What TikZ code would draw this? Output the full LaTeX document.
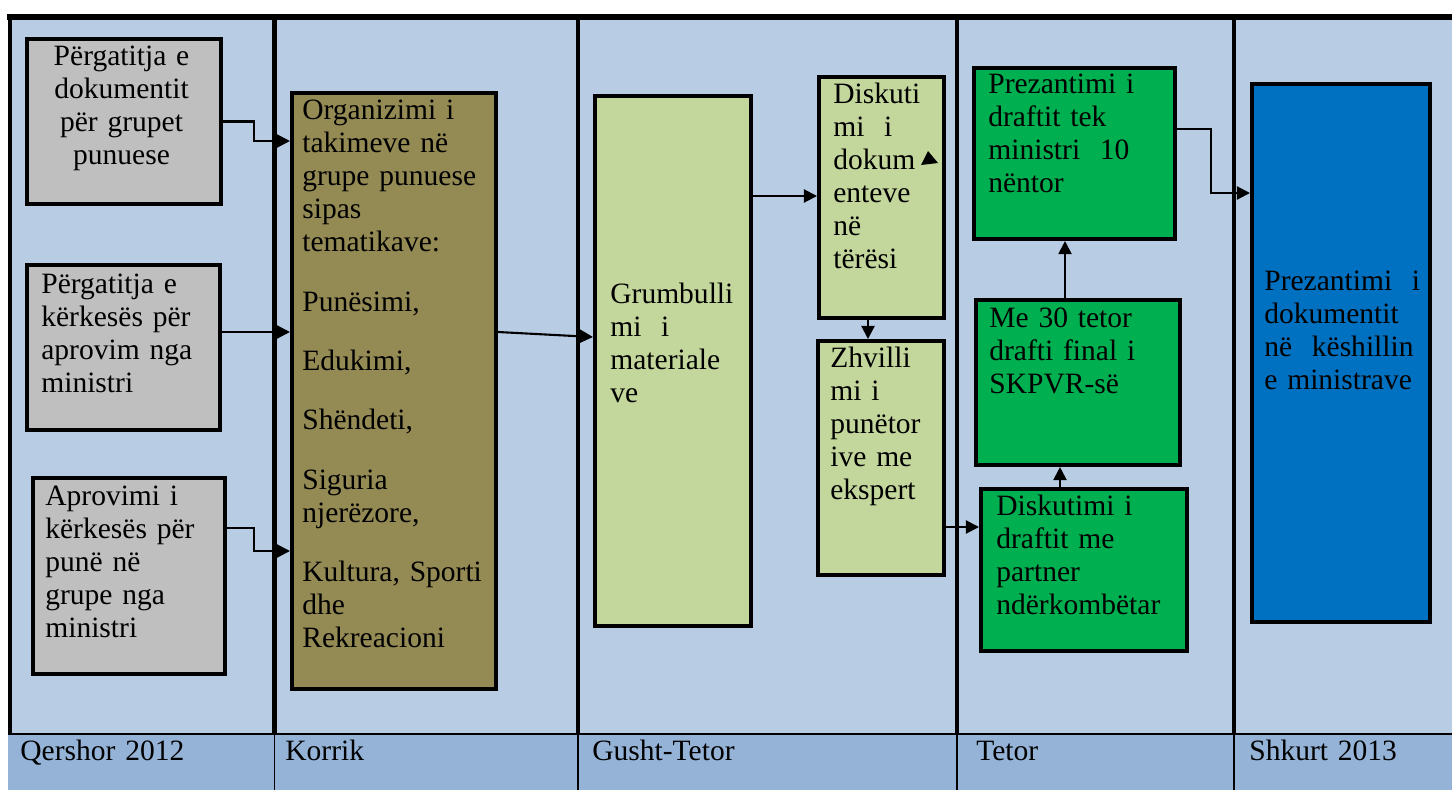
\documentclass[tikz,border=0pt]{standalone}
\usepackage{fontspec}
\setmainfont{Liberation Serif}
\usepackage{xcolor}
\usetikzlibrary{arrows.meta}

\definecolor{lanebg}{HTML}{B8CCE4}
\definecolor{stripbg}{HTML}{95B3D7}
\definecolor{grayfill}{HTML}{BFBFBF}
\definecolor{olivefill}{HTML}{948A54}
\definecolor{palegreen}{HTML}{C3D69B}
\definecolor{greenfill}{HTML}{00B050}
\definecolor{bluefill}{HTML}{0070C0}

\begin{document}
\begin{tikzpicture}[x=0.2mm, y=-0.2mm,
		box/.style={draw=black, line width=2.3pt, inner sep=0pt, anchor=north west},
		txt/.style={
			font=\fontsize{16.8}{18.8}\selectfont, inner sep=0pt,
			anchor=north west, align=left, text width=8cm,
			execute at begin node=\strut
		},
		arr/.style={-{Triangle[length=7.5pt, width=7.5pt]}, line width=1.2pt}
	]
		\useasboundingbox (0,0) rectangle (1452,790);

		% lanes and month strip
		\fill[lanebg] (10,17) rectangle (1452,734);
		\fill[stripbg] (8,734) rectangle (1452,790);
		\draw[line width=3.4pt] (7,17) -- (1452,17);
		\draw[line width=2.8pt] (10,17) -- (10,734);
		\foreach \x in {274.5,578,957,1234} {
				\draw[line width=2.8pt] (\x,17) -- (\x,734);
				\draw[line width=0.9pt] (\x,734) -- (\x,790);
			}
		\draw[line width=0.9pt] (8,734) -- (1452,734);

		\foreach \x/\m/\n in {20/Qershor 2012/qershor, 285/Korrik/korrik,
				592/Gusht-Tetor/gusht, 976/Tetor/tetor, 1249/Shkurt 2013/shkurt} {
				\node[txt] (\n) at (\x,737) {\m};
			}

		% Qershor
		\node[box, fill=grayfill, minimum width=194*0.2mm, minimum height=165*0.2mm]
		(prep1) at (25,37) {};
		\node[txt, anchor=north, align=center, text width=194*0.2mm] (prep1-t) at (121.5,42)
		{Përgatitja e\\dokumentit\\për grupet\\punuese};

		\node[box, fill=grayfill, minimum width=193*0.2mm, minimum height=165*0.2mm]
		(prep2) at (25,263) {};
		\node[txt] (prep2-t) at (41,270) {Përgatitja e\\kërkesës për\\aprovim nga\\ministri};

		\node[box, fill=grayfill, minimum width=192*0.2mm, minimum height=196*0.2mm]
		(aprov) at (31,476) {};
		\node[txt] (aprov-t) at (45,482) {Aprovimi i\\kërkesës për\\punë në\\grupe nga\\ministri};

		% Korrik
		\node[box, fill=olivefill, minimum width=204*0.2mm, minimum height=596*0.2mm]
		(org) at (290,91) {};
		\node[txt] (org-t) at (302,96) {Organizimi i\\takimeve në\\grupe punuese\\sipas\\tematikave:\\[15pt]
			Punësimi,\\[15pt]Edukimi,\\[15pt]Shëndeti,\\[15pt]Siguria\\njerëzore,\\[15pt]
			Kultura, Sporti\\dhe\\Rekreacioni};

		% Gusht-Tetor
		\node[box, fill=palegreen, minimum width=156*0.2mm, minimum height=530*0.2mm]
		(grum) at (593,94) {};
		\node[txt] (grum-t) at (610,280) {Grumbulli\\mi~ i\\materiale\\ve};

		\node[box, fill=palegreen, minimum width=125*0.2mm, minimum height=241*0.2mm]
		(disk) at (817,75) {};
		\node[txt] (disk-t) at (833,80) {Diskuti\\mi~ i\\dokum\\enteve\\në\\tërësi};
		\fill (921,165) -- (938,163) -- (928,151) -- cycle;

		\node[box, fill=palegreen, minimum width=126*0.2mm, minimum height=234*0.2mm]
		(zhv) at (816,339) {};
		\node[txt] (zhv-t) at (830,344) {Zhvilli\\mi i\\punëtor\\ive me\\ekspert};

		% Tetor
		\node[box, fill=greenfill, minimum width=201*0.2mm, minimum height=171*0.2mm]
		(prez) at (972,66) {};
		\node[txt] (prez-t) at (988,70) {Prezantimi i\\draftit tek\\ministri~ 10\\nëntor};

		\node[box, fill=greenfill, minimum width=204*0.2mm, minimum height=165*0.2mm]
		(final) at (974,298) {};
		\node[txt] (final-t) at (989,304) {Me 30 tetor\\drafti final i\\SKPVR-së};

		\node[box, fill=greenfill, minimum width=206*0.2mm, minimum height=162*0.2mm]
		(discd) at (979,487) {};
		\node[txt] (discd-t) at (996,492) {Diskutimi i\\draftit me\\partner\\ndërkombëtar};

		% Shkurt 2013
		\node[box, fill=bluefill, minimum width=178*0.2mm, minimum height=538*0.2mm]
		(minis) at (1250,82) {};
		\node[txt] (minis-t) at (1264,267) {Prezantimi~ i\\dokumentit\\në~ këshillin\\e ministrave};

		% connectors
		\draw[arr] (prep1.east) -- ++(31,0) |- (org.west |- 0,141);
		\draw[arr] (prep2.east |- 0,332) -- (org.west |- 0,332);
		\draw[arr] (aprov.east |- 0,528) -- ++(27,0) |- (org.west |- 0,551);
		\draw[arr] (org.east |- 0,332) -- (grum.west |- 0,337);
		\draw[arr] (grum.east |- 0,196) -- (disk.west |- 0,196);
		\draw[arr] (disk.south -| 868,0) -- (zhv.north -| 868,0);
		\draw[arr] (zhv.east |- 0,527) -- (discd.west |- 0,527);
		\draw[arr] (discd.north -| 1060,0) -- (final.south -| 1060,0);
		\draw[arr] (final.north -| 1065,0) -- (prez.south -| 1065,0);
		\draw[arr] (prez.east |- 0,129) -- ++(34,0) |- (minis.west |- 0,193);
	\end{tikzpicture}
\end{document}
